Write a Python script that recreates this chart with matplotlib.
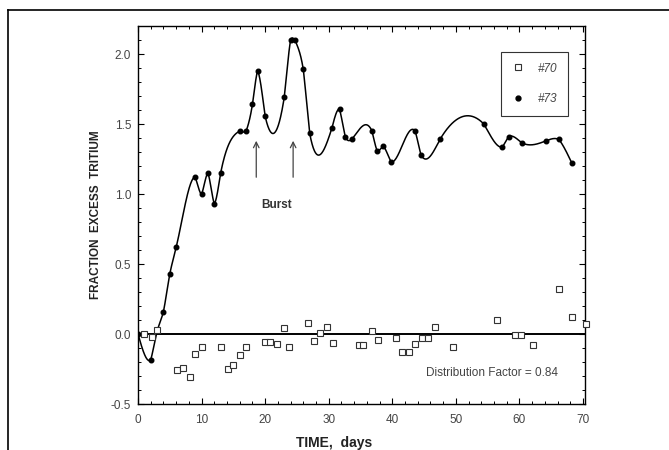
import numpy as np
import matplotlib
matplotlib.use("Agg")
from matplotlib import pyplot as plt
from matplotlib.lines import Line2D

plt.rcParams['font.family'] = ['Liberation Sans', 'DejaVu Sans']

# run #73 (filled markers, smooth curve)
day_73 = [0, 2, 3, 4, 5, 6, 9, 10, 11, 12, 13, 16, 17, 18, 18.8, 20, 23, 24, 24.7, 26, 27,
          30.5, 31.7, 32.6, 33.6, 36.8, 37.6, 38.6, 39.8, 43.6, 44.5, 47.5, 54.4, 57.3, 58.3,
          60.4, 64.2, 66.2, 68.2]
frac_73 = [0.0, -0.185, 0.02, 0.16, 0.43, 0.62, 1.12, 1.0, 1.15, 0.93, 1.15, 1.45, 1.45, 1.64,
           1.88, 1.555, 1.69, 2.10, 2.10, 1.89, 1.435, 1.47, 1.605, 1.41, 1.39, 1.45, 1.31, 1.34,
           1.23, 1.45, 1.28, 1.39, 1.50, 1.335, 1.41, 1.365, 1.38, 1.39, 1.225]

# run #70 (open squares)
day_70 = [1, 2.2, 3, 6.1, 7, 8.1, 9, 10.1, 13, 14.1, 15, 16, 17, 20, 20.8, 21.8, 22.9, 23.8,
          26.7, 27.7, 28.7, 29.7, 30.7, 34.7, 35.4, 36.8, 37.8, 40.6, 41.6, 42.7, 43.6, 44.6,
          45.6, 46.7, 49.6, 56.4, 59.3, 60.3, 62.2, 66.3, 68.2, 70.4]
frac_70 = [0.0, -0.02, 0.03, -0.255, -0.24, -0.31, -0.14, -0.09, -0.095, -0.25, -0.22, -0.15,
           -0.095, -0.06, -0.06, -0.07, 0.04, -0.09, 0.08, -0.05, 0.005, 0.05, -0.065, -0.08,
           -0.08, 0.025, -0.04, -0.03, -0.13, -0.125, -0.07, -0.03, -0.025, 0.05, -0.09, 0.10,
           -0.005, -0.005, -0.08, 0.325, 0.12, 0.07]


def tension_curve(x, y, xs, tension=0.4):
    # natural cubic spline blended with straight segments (spline under tension look)
    x = np.asarray(x, float)
    y = np.asarray(y, float)
    n = len(x)
    h = np.diff(x)
    A = np.zeros((n, n))
    r = np.zeros(n)
    A[0, 0] = A[-1, -1] = 1
    for i in range(1, n - 1):
        A[i, i - 1] = h[i - 1]
        A[i, i] = 2 * (h[i - 1] + h[i])
        A[i, i + 1] = h[i]
        r[i] = 3 * ((y[i + 1] - y[i]) / h[i] - (y[i] - y[i - 1]) / h[i - 1])
    c = np.linalg.solve(A, r)
    b = (y[1:] - y[:-1]) / h - h * (2 * c[:-1] + c[1:]) / 3
    d = (c[1:] - c[:-1]) / (3 * h)
    idx = np.clip(np.searchsorted(x, xs) - 1, 0, n - 2)
    dx = xs - x[idx]
    spline = y[idx] + b[idx] * dx + c[idx] * dx ** 2 + d[idx] * dx ** 3
    return (1 - tension) * spline + tension * np.interp(xs, x, y)


fig = plt.figure(figsize=(6.69, 4.5), dpi=100)
ax = fig.add_axes([0.2063, 0.1022, 0.668, 0.840])

ax.axhline(0, color='black', lw=1.4, zorder=1)

xs = np.linspace(day_73[0], day_73[-1], 1500)
ax.plot(xs, tension_curve(day_73, frac_73, xs), color='black', lw=1.1, zorder=2)
ax.plot(day_73, frac_73, 'o', color='black', ms=3.3, zorder=3, label='#73')
ax.plot(day_70, frac_70, 's', mfc='white', mec='#333333', mew=0.8, ms=4.2, zorder=3,
        label='#70', clip_on=False)

# burst arrows
for xa in (18.6, 24.4):
    ax.annotate('', xy=(xa, 1.40), xytext=(xa, 1.10),
                arrowprops=dict(arrowstyle='->', color='#444444', lw=0.9))
ax.text(21.85, 0.92, 'Burst', ha='center', va='center', fontsize=8.5, fontweight='bold',
        color='#333333')
ax.text(55.7, -0.28, 'Distribution Factor = 0.84', ha='center', va='center', fontsize=8.5,
        color='#444444')

ax.set_xlim(0, 70.3)
ax.set_ylim(-0.5, 2.2)
ax.set_xticks(np.arange(0, 71, 10))
ax.set_xticks(np.arange(0, 71, 2), minor=True)
ax.set_yticks(np.arange(-0.5, 2.01, 0.5))
ax.set_yticks(np.arange(-0.5, 2.2, 0.1), minor=True)
ax.yaxis.set_major_formatter(matplotlib.ticker.FormatStrFormatter('%.1f'))
ax.tick_params(which='both', direction='in', top=True, right=True, labelsize=8.5,
               labelcolor='#444444')
ax.tick_params(which='major', length=4, width=0.8)
ax.tick_params(which='minor', length=2, width=0.7)
ax.tick_params(axis='x', pad=7)
ax.tick_params(axis='y', pad=5)
for s in ax.spines.values():
    s.set_linewidth(1.0)

ax.set_xlabel('TIME,  days', fontsize=10, fontweight='bold', color='#222222')
ax.xaxis.set_label_coords(0.438, -0.085)
ax.set_ylabel('FRACTION  EXCESS  TRITIUM', fontsize=8.5, fontweight='bold', color='#222222',
              labelpad=6)

handles = [Line2D([], [], ls='none', marker='s', mfc='white', mec='#333333', mew=0.8, ms=4),
           Line2D([], [], ls='none', marker='o', color='black', ms=3.5)]
leg = ax.legend(handles, ['#70', '#73'], loc='upper right', bbox_to_anchor=(0.975, 0.947),
                fancybox=False, edgecolor='#333333', framealpha=1, fontsize=8.5,
                labelspacing=1.6, handletextpad=1.2, borderpad=0.9, handlelength=1.0)
leg.get_frame().set_linewidth(0.8)
for t in leg.get_texts():
    t.set_fontstyle('italic')
    t.set_color('#444444')

# outer page frame (top and left edges visible)
fig.add_artist(Line2D([8 / 669, 1], [1 - 10 / 450, 1 - 10 / 450], transform=fig.transFigure,
                      color='black', lw=1.2))
fig.add_artist(Line2D([8 / 669, 8 / 669], [0, 1 - 10 / 450], transform=fig.transFigure,
                      color='black', lw=1.2))

fig.savefig('out.png', dpi=100)
